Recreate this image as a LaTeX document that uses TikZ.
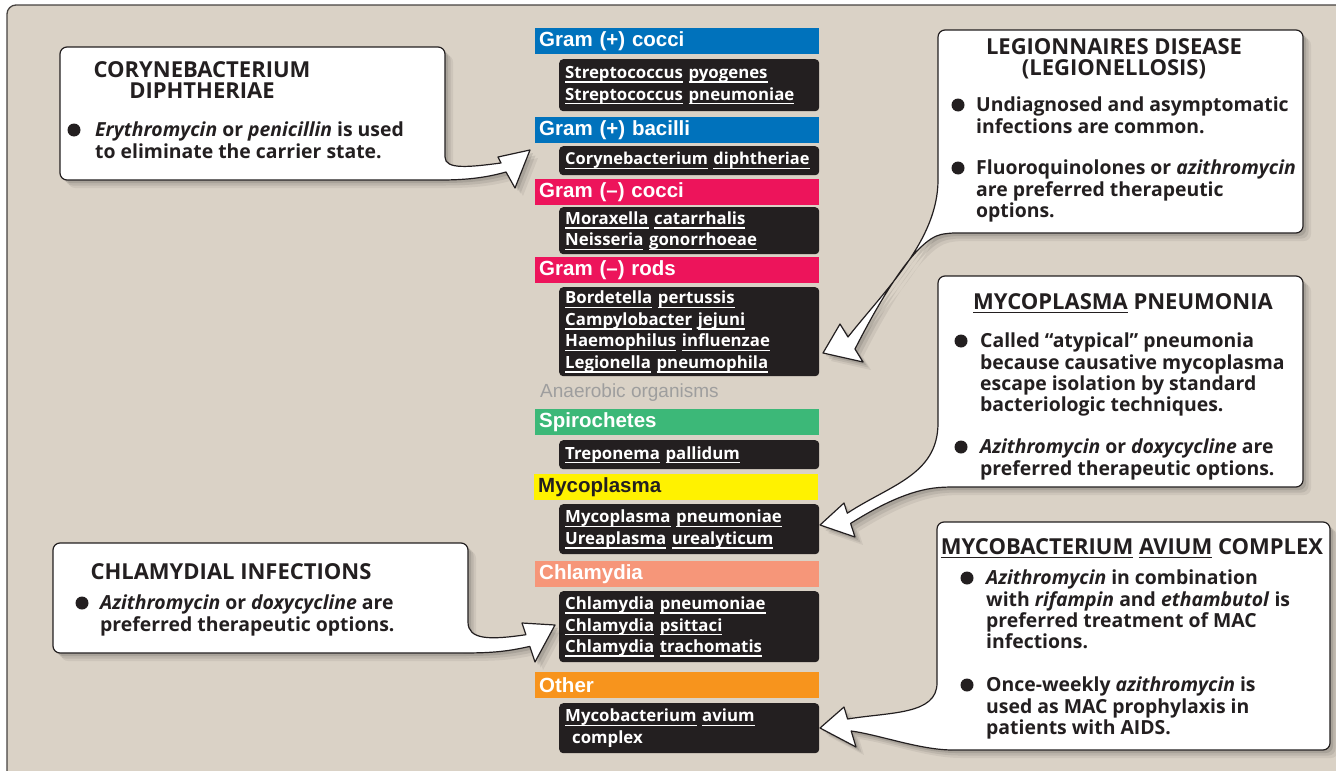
\documentclass[tikz,border=0pt]{standalone}
\usepackage{fontspec}
\setmainfont{Open Sans}
\newfontfamily\arialf{Liberation Sans}
\definecolor{panel}{RGB}{218,210,198}
\definecolor{panelline}{RGB}{70,66,64}
\definecolor{ink}{RGB}{35,31,32}
\definecolor{gblue}{RGB}{0,114,188}
\definecolor{gpink}{RGB}{237,20,91}
\definecolor{ggreen}{RGB}{60,184,120}
\definecolor{gyellow}{RGB}{255,242,0}
\definecolor{gsalmon}{RGB}{246,150,121}
\definecolor{gorange}{RGB}{247,148,29}
\definecolor{anaer}{RGB}{158,158,158}
\newcommand\ulx[2]{\leavevmode\setbox0=\hbox{#2}\rlap{\smash{\rule[-#1]{\wd0}{1.3pt}}}\box0\relax}
\newcommand\ulw[1]{\ulx{4.2pt}{#1}}
\newcommand\ulh[1]{\ulx{3.2pt}{#1}}
\begin{document}
\begin{tikzpicture}[x=1pt,y=-1pt,
  bar/.style={fill=#1, anchor=north west, minimum height=25.5pt, text width=276pt,
    inner xsep=4pt, inner ysep=0pt, text=white, align=left,
    font=\arialf\bfseries\fontsize{20.5}{21}\selectfont},
  blk/.style={fill=ink, rounded corners=4pt, anchor=north west, text width=252pt,
    inner xsep=4pt, inner ysep=0pt, text=white, align=left,
    font=\bfseries\fontsize{16.8}{21.5}\selectfont},
  callout/.style={fill=white, draw=ink, line width=1.2pt, line join=round,
    preaction={fill=black, opacity=.06, transform canvas={shift={(8pt,-8pt)}}},
    preaction={fill=black, opacity=.08, transform canvas={shift={(5.5pt,-5.5pt)}}},
    preaction={fill=black, opacity=.10, transform canvas={shift={(3pt,-3pt)}}}},
  head/.style={anchor=center, align=center, inner sep=0pt, text=ink,
    font=\bfseries\fontsize{22}{20.5}\selectfont},
  body/.style={anchor=north west, align=left, inner sep=0pt, text=ink,
    font=\bfseries\fontsize{19.4}{21.3}\selectfont},
  dot/.style={fill=ink}]
\useasboundingbox (0,0) rectangle (1336,771);
% panel
\draw[fill=panel, draw=panelline, line width=1.3pt, rounded corners=9pt] (7,5) rectangle (1380,820);

% ---------- centre column ----------
\node[bar=gblue] (b1) at (535,28) {Gram (+) cocci};
\node[blk, minimum height=52pt] (k1) at (559,59) {\hspace*{2pt}\ulw{Streptococcus} \ulw{pyogenes}\\\hspace*{2pt}\ulw{Streptococcus} \ulw{pneumoniae}};
\node[bar=gblue] (b2) at (535,117) {Gram (+) bacilli};
\node[blk, minimum height=29pt, font=\bfseries\fontsize{16.4}{21.5}\selectfont] (k2) at (559,146) {\mbox{\hspace*{2pt}\ulw{Corynebacterium} \ulw{diphtheriae}}};
\node[bar=gpink] (b3) at (535,179) {Gram (–) cocci};
\node[blk, minimum height=47pt] (k3) at (559,207) {\hspace*{2pt}\ulw{Moraxella} \ulw{catarrhalis}\\\hspace*{2pt}\ulw{Neisseria} \ulw{gonorrhoeae}};
\node[bar=gpink] (b4) at (535,257) {Gram (–) rods};
\node[blk, minimum height=89pt] (k4) at (559,287) {\hspace*{2pt}\ulw{Bordetella} \ulw{pertussis}\\\hspace*{2pt}\ulw{Campylobacter} \ulw{jejuni}\\\hspace*{2pt}\ulw{Haemophilus} \ulw{influenzae}\\\hspace*{2pt}\ulw{Legionella} \ulw{pneumophila}};
\node[anchor=west, inner sep=0pt, text=anaer, font=\arialf\fontsize{19}{19}\selectfont] (an) at (540,393) {Anaerobic organisms};
\node[bar=ggreen] (b5) at (535,409) {Spirochetes};
\node[blk, minimum height=29pt] (k5) at (559,440) {\hspace*{2pt}\ulw{Treponema} \ulw{pallidum}};
\node[bar=gyellow, text=ink] (b6) at (534,474) {Mycoplasma};
\node[blk, minimum height=50pt] (k6) at (559,504) {\hspace*{2pt}\ulw{Mycoplasma} \ulw{pneumoniae}\\\hspace*{2pt}\ulw{Ureaplasma} \ulw{urealyticum}};
\node[bar=gsalmon] (b7) at (535,561) {Chlamydia};
\node[blk, minimum height=71pt] (k7) at (559,591) {\hspace*{2pt}\ulw{Chlamydia} \ulw{pneumoniae}\\\hspace*{2pt}\ulw{Chlamydia} \ulw{psittaci}\\\hspace*{2pt}\ulw{Chlamydia} \ulw{trachomatis}};
\node[bar=gorange] (b8) at (535,672) {Other};
\node[blk, minimum height=50pt] (k8) at (559,703) {\hspace*{2pt}\ulw{Mycobacterium} \ulw{avium}\\\hspace*{9pt}complex};

% ---------- callout: Corynebacterium ----------
\draw[callout] (60,120) [rounded corners=7pt] -- (60,47) -- (445,47) -- (445,150) [sharp corners]
  .. controls (445,170) and (470,167) .. (501,163) -- (498,157) -- (530,150) -- (515,188) -- (506,172)
  .. controls (485,178) and (465,180) .. (440,180) [rounded corners=7pt] -- (60,180) -- (60,120);
\node[head] (hA) at (202,80) {CORYNEBACTERIUM\\DIPHTHERIAE};
\fill[dot] (74,130) circle (6.5pt);
\node[body] (tA) at (95,122) {\textit{Erythromycin} or \textit{penicillin} is used\\to eliminate the carrier state.};

% ---------- callout: Legionnaires ----------
\draw[callout] (1000,30) [rounded corners=7pt] -- (1303,30) -- (1303,233) -- (948,233) [sharp corners]
  .. controls (915,240) and (880,300) .. (855,349) -- (863,362) -- (823,353) -- (840,324) -- (848,337)
  .. controls (885,290) and (938,240) .. (938,180) [rounded corners=7pt] -- (938,30) -- (1000,30);
\node[head] (hB) at (1114,59) {LEGIONNAIRES DISEASE\\(LEGIONELLOSIS)};
\fill[dot] (958,105) circle (6.5pt);
\node[body] (tB1) at (976,97) {Undiagnosed and asymptomatic\\infections are common.};
\fill[dot] (958,168) circle (6.5pt);
\node[body] (tB2) at (976,160) {Fluoroquinolones or \textit{azithromycin}\\are preferred therapeutic\\options.};

% ---------- callout: Mycoplasma ----------
\draw[callout] (1000,276) [rounded corners=7pt] -- (1303,276) -- (1303,487) -- (945,487) [sharp corners]
  .. controls (910,490) and (880,505) .. (850.6,523.4) -- (855,537) -- (820,525) -- (844,503) -- (847.3,513.2)
  .. controls (890,485) and (938,475) .. (938,423) [rounded corners=7pt] -- (938,276) -- (1000,276);
\node[head] (hC) at (1123,302) {\ulh{MYCOPLASMA} PNEUMONIA};
\fill[dot] (961,341) circle (6.5pt);
\node[body] (tC1) at (980,333) {Called “atypical” pneumonia\\because causative mycoplasma\\escape isolation by standard\\bacteriologic techniques.};
\fill[dot] (961,447) circle (6.5pt);
\node[body] (tC2) at (980,439) {\textit{Azithromycin} or \textit{doxycycline} are\\preferred therapeutic options.};

% ---------- callout: MAC ----------
\draw[callout] (1000,522) [rounded corners=7pt] -- (1330,522) -- (1330,750) -- (960,750) [sharp corners]
  .. controls (920,750) and (880,735) .. (851.2,731) -- (856,747) -- (820,728) -- (844,707) -- (847.6,719)
  .. controls (890,712) and (937,715) .. (937,683) [rounded corners=7pt] -- (937,522) -- (1000,522);
\node[head] (hD) at (1132,547) {\ulh{MYCOBACTERIUM} \ulh{AVIUM} COMPLEX};
\fill[dot] (967,578) circle (6.5pt);
\node[body] (tD1) at (986,570) {\textit{Azithromycin} in combination\\with \textit{rifampin} and \textit{ethambutol} is\\preferred treatment of MAC\\infections.};
\fill[dot] (967,685) circle (6.5pt);
\node[body] (tD2) at (986,677) {Once-weekly \textit{azithromycin} is\\used as MAC prophylaxis in\\patients with AIDS.};

% ---------- callout: Chlamydial ----------
\draw[callout] (53,600) [rounded corners=7pt] -- (53,543) -- (468,543) -- (468,615) [sharp corners]
  .. controls (468,640) and (490,640) .. (525.9,634.7) -- (522,623) -- (555,625) -- (535,662) -- (529.8,646.4)
  .. controls (505,652) and (490,653) .. (460,653) [rounded corners=7pt] -- (53,653) -- (53,600);
\node[head] (hE) at (231,572) {CHLAMYDIAL INFECTIONS};
\fill[dot] (82,603) circle (6.5pt);
\node[body] (tE) at (100,595) {\textit{Azithromycin} or \textit{doxycycline} are\\preferred therapeutic options.};
\end{tikzpicture}
\end{document}
